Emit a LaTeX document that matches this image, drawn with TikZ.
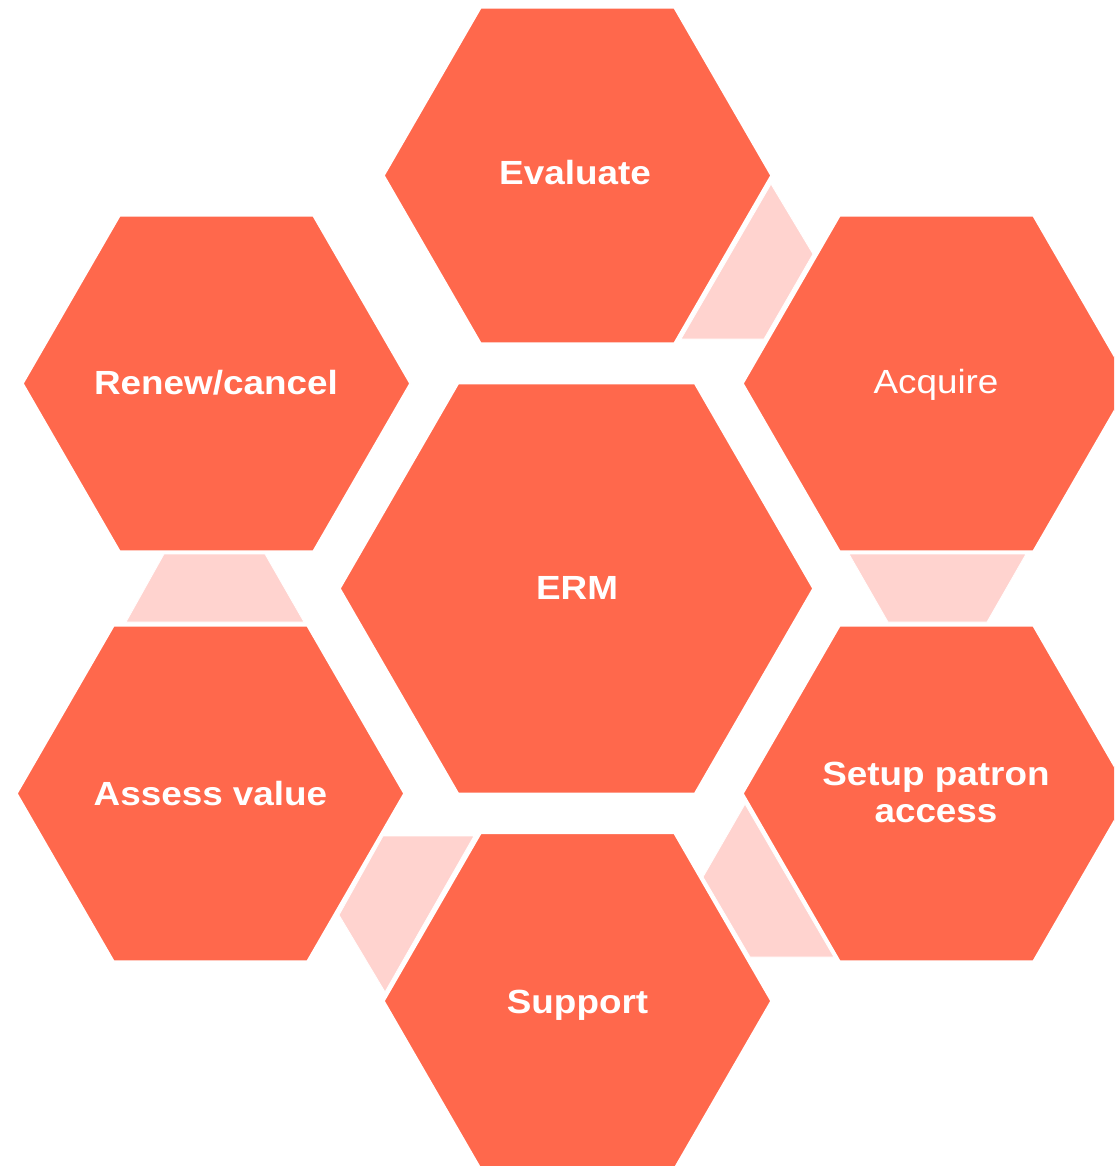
\documentclass[tikz,border=0pt]{standalone}
\usepackage{fontspec}
\setmainfont{Liberation Sans}[FakeStretch=1.1]
\usetikzlibrary{shapes.geometric}
\definecolor{hexorange}{HTML}{FF684C}
\definecolor{linkpink}{HTML}{FFD3CF}
\begin{document}
\begin{tikzpicture}[x=1pt,y=-1pt,
  hex/.style={regular polygon, regular polygon sides=6,
    fill=hexorange, draw=white, line width=1.5pt, inner sep=0pt, outer sep=0pt,
    minimum size=#1},
  hex/.default=387pt,
  link/.style={fill=linkpink, draw=white, line width=0.8pt},
  lbl/.style={text=white, font=\bfseries\fontsize{33.5}{37}\selectfont,
    inner sep=0pt, align=center},
  lblreg/.style={lbl, font=\fontsize{33.5}{37}\selectfont}]
\useasboundingbox (0,0) rectangle (1114,1166);
\clip (0,0) rectangle (1114,1166);
% connectors
\path[link] (771,184) -- (813,254) -- (764,339) -- (681,339) -- cycle;
\path[link] (849,554) -- (1026,554) -- (987,622) -- (888,622) -- cycle;
\path[link] (745,804) -- (834,957) -- (750,957) -- (703,877) -- cycle;
\path[link] (383,836) -- (474,836) -- (385,992) -- (339,915) -- cycle;
\path[link] (164,554) -- (265,554) -- (304,622) -- (126,622) -- cycle;
% hexagons
\node[hex] (evaluate) at (577.5,175.5) {};
\node[hex] (acquire)  at (936.5,383.5) {};
\node[hex] (setup)    at (936.5,793.5) {};
\node[hex] (support)  at (577.5,1001) {};
\node[hex] (assess)   at (210.5,793.5) {};
\node[hex] (renew)    at (216.5,383.5) {};
\node[hex=473pt] (erm) at (576.5,588.5) {};
% labels
\node[lbl, anchor=base] (tevaluate) at (575,185) {Evaluate};
\node[lblreg, anchor=base] (tacquire) at (936,393) {Acquire};
\node[lbl, anchor=base] (term) at (577,599) {ERM};
\node[lbl] (tsetup) at (936,792.3) {Setup patron\\access};
\node[lbl, anchor=base] (trenew) at (216,394) {Renew/cancel};
\node[lbl, anchor=base] (tassess) at (210.5,805) {Assess value};
\node[lbl, anchor=base] (tsupport) at (577.5,1013) {Support};
\end{tikzpicture}
\end{document}
